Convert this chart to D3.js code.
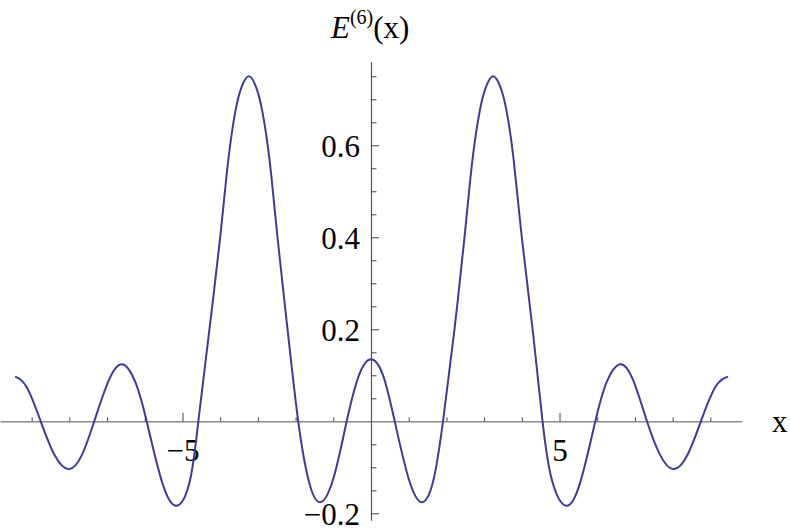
<!DOCTYPE html>
<html>
<head>
<meta charset="utf-8">
<title>E6</title>
<script src="https://cdn.jsdelivr.net/npm/d3@7"></script>
<style>
body { margin: 0; background: #fff; }
text { font-family: "Liberation Serif", "Times New Roman", serif; fill: #000; }
</style>
</head>
<body>
<div id="graphic"></div>
<script>
// curve samples (extrema, zero crossings, a few levels between)
var xs = [-9.44, -9.13, -8.76, -8.40, -8.01, -7.66, -7.34, -6.95, -6.59, -6.25, -5.95, -5.55,
  -5.155, -4.80, -4.58, -4.30, -4.00, -3.785, -3.59, -3.43, -3.24, -3.05, -2.89, -2.69, -2.48,
  -2.20, -1.93, -1.65, -1.353, -1.00, -0.645, -0.32, 0,
  0.32, 0.63, 1.00, 1.345, 1.65, 1.91, 2.20, 2.48, 2.69, 2.89, 3.05, 3.24, 3.43, 3.59, 3.785,
  4.00, 4.30, 4.55, 4.80, 5.18, 5.56, 5.95, 6.25, 6.60, 6.95, 7.32, 7.66, 8.02, 8.40, 8.75,
  9.13, 9.47];
var ys = [0.097, 0.074, 0, -0.072, -0.104, -0.072, 0, 0.09, 0.124, 0.085, 0, -0.13,
  -0.1835, -0.128, 0, 0.19, 0.40, 0.568, 0.677, 0.727, 0.75, 0.727, 0.677, 0.568, 0.40,
  0.19, 0, -0.13, -0.176, -0.125, 0, 0.10, 0.135,
  0.10, 0, -0.125, -0.176, -0.13, 0, 0.19, 0.40, 0.568, 0.677, 0.727, 0.75, 0.727, 0.677, 0.568,
  0.40, 0.19, 0, -0.128, -0.1835, -0.13, 0, 0.085, 0.124, 0.09, 0, -0.072, -0.104, -0.072, 0,
  0.074, 0.097];

var xMajor = [-5, 5];
var xMinor = [-9, -8, -7, -6, -4, -3, -2, -1, 1, 2, 3, 4, 6, 7, 8, 9];
var yMajor = [-0.2, 0.2, 0.4, 0.6];
var yMinor = [-0.15, -0.1, -0.05, 0.05, 0.1, 0.15, 0.25, 0.3, 0.35, 0.45, 0.5, 0.55, 0.65, 0.7, 0.75];

var w = 790, h = 532;

var svg = d3.select("#graphic").append("svg")
  .attr("width", w)
  .attr("height", h);

var x = d3.scaleLinear().domain([-9.84, 9.84]).range([0, 742]);
var y = d3.scaleLinear().domain([-0.2152, 0.7817]).range([520.3, 61.7]);

var fmt = d3.format(".1f");
var serif = "'Liberation Serif', 'Times New Roman', serif";

// x axis
var gx = svg.append("g").attr("transform", "translate(0," + y(0) + ")");
gx.call(d3.axisBottom(x).tickValues(xMinor).tickSizeInner(-4).tickSizeOuter(0).tickFormat(""));
gx.select(".domain").attr("stroke", "#8a8a8a").attr("stroke-width", 1.4);
gx.selectAll(".tick line").attr("stroke", "#444");

var gx2 = svg.append("g").attr("transform", "translate(0," + y(0) + ")");
gx2.call(d3.axisBottom(x).tickValues(xMajor).tickSizeInner(-8.5).tickSizeOuter(0)
  .tickFormat(function(d) { return d3.format("d")(d); }));
gx2.select(".domain").remove();
gx2.selectAll(".tick line").attr("stroke", "#444");
gx2.selectAll(".tick text")
  .attr("y", 40).attr("dy", 0)
  .style("font-size", "31px")
  .style("font-family", serif);

// y axis
var gy = svg.append("g").attr("transform", "translate(" + x(0) + ",0)");
gy.call(d3.axisLeft(y).tickValues(yMinor).tickSizeInner(-5.5).tickSizeOuter(0).tickFormat(""));
gy.select(".domain").attr("stroke", "#555").attr("stroke-width", 1.2);
gy.selectAll(".tick line").attr("stroke", "#444");

var gy2 = svg.append("g").attr("transform", "translate(" + x(0) + ",0)");
gy2.call(d3.axisLeft(y).tickValues(yMajor).tickSizeInner(-8).tickSizeOuter(0).tickFormat(fmt).tickPadding(11));
gy2.select(".domain").remove();
gy2.selectAll(".tick line").attr("stroke", "#444");
gy2.selectAll(".tick text")
  .attr("dy", "0.35em")
  .style("font-size", "31px")
  .style("font-family", serif);

// the curve
var pts = xs.map(function(d, i) { return [d, ys[i]]; });
var line = d3.line()
  .x(function(d) { return x(d[0]); })
  .y(function(d) { return y(d[1]); })
  .curve(d3.curveNatural);

svg.append("path")
  .datum(pts)
  .attr("d", line)
  .attr("fill", "none")
  .attr("stroke", "#3d3d99")
  .attr("stroke-width", 2);

// axis labels
svg.append("text")
  .attr("x", 772)
  .attr("y", 432)
  .style("font-size", "31px")
  .style("font-family", serif)
  .text("x");

var lab = svg.append("text")
  .attr("x", 331)
  .attr("y", 38)
  .style("font-size", "31px")
  .style("font-family", serif);
lab.append("tspan").attr("font-style", "italic").text("E");
lab.append("tspan").style("font-size", "20px").attr("dy", -14).text("(6)");
lab.append("tspan").attr("dy", 14).text("(x)");
</script>
</body>
</html>
